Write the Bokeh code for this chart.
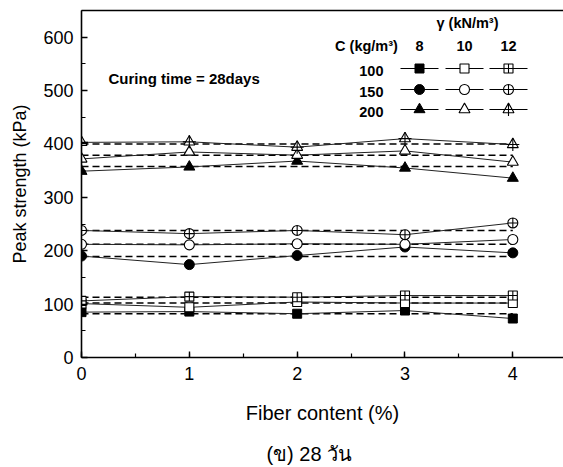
from bokeh.plotting import figure
from bokeh.layouts import column
from bokeh.models import Range1d, LinearAxis, SingleIntervalTicker, FixedTicker, Label
from bokeh.embed import file_html
from bokeh.resources import INLINE
from bokeh.core.properties import value

# ---------------- data ----------------
fiber = [0, 1, 2, 3, 4]

# C = 100 kg/m3, gamma = 8, 10, 12 kN/m3
c100_g8 = [85, 86, 82, 88, 73]
c100_g10 = [101, 94, 104, 102, 102]
c100_g12 = [106, 114, 113, 116, 116]
# C = 150 kg/m3
c150_g8 = [190, 174, 191, 207, 196]
c150_g10 = [212, 211, 213, 212, 221]
c150_g12 = [238, 232, 238, 230, 252]
# C = 200 kg/m3
c200_g8 = [349, 357, 368, 355, 336]
c200_g10 = [372, 385, 379, 387, 366]
c200_g12 = [403, 404, 394, 410, 399]

# dashed reference (average) lines
mean_c100 = [82, 102, 113]
mean_c150 = [189, 212, 238]
mean_c200 = [358, 379, 400]

cement_labels = ["100", "150", "200"]
gamma_labels = ["8", "10", "12"]
caption = "(ข) 28 วัน"

# ---------------- layout ----------------
W, H = 563, 467
H1 = 430                           # main chart height; caption strip below
FL, FT, FB = 81, 10, 357           # frame left / top / bottom (px)
XMAX, YMAX = 4.47, 650
FONT = "Liberation Sans"

p = figure(width=W, height=H1, output_backend="svg", toolbar_location=None,
           x_range=Range1d(0, XMAX), y_range=Range1d(0, YMAX),
           min_border_left=FL, min_border_right=0, min_border_top=FT,
           min_border_bottom=H1 - FB,
           x_axis_label="Fiber content (%)", y_axis_label="Peak strength (kPa)")
p.outline_line_color = None
p.grid.visible = False
p.background_fill_color = "white"
p.border_fill_color = "white"

p.xaxis.ticker = SingleIntervalTicker(interval=1, num_minor_ticks=2)
p.yaxis.ticker = SingleIntervalTicker(interval=100, num_minor_ticks=2)
for ax in (p.xaxis[0], p.yaxis[0]):
    ax.axis_line_width = 1.6
    ax.axis_line_color = "black"
    ax.major_tick_in = 6
    ax.major_tick_out = 0
    ax.minor_tick_in = 4
    ax.minor_tick_out = 0
    ax.major_tick_line_width = 1.4
    ax.minor_tick_line_width = 1.2
    ax.major_tick_line_color = "black"
    ax.minor_tick_line_color = "black"
    ax.major_label_text_font = FONT
    ax.major_label_text_font_size = "18px"
    ax.major_label_text_color = "black"
    ax.axis_label_text_font = FONT
    ax.axis_label_text_font_style = "normal"
    ax.axis_label_text_color = "black"
p.yaxis.axis_label_text_font_size = "18px"
p.xaxis.axis_label_text_font_size = "20px"
p.yaxis.major_label_standoff = 8
p.yaxis.axis_label_standoff = 10
p.xaxis.major_label_standoff = 9
p.xaxis.axis_label_standoff = 19

top_axis = LinearAxis(ticker=FixedTicker(ticks=[]), major_label_text_font_size="0px",
                      major_tick_out=0, major_tick_in=0, minor_tick_out=0, minor_tick_in=0,
                      major_label_standoff=0, axis_line_width=1.6, axis_line_color="black")
p.add_layout(top_axis, "above")

# ---------------- series ----------------
groups = [
    (c100_g8, c100_g10, c100_g12, mean_c100, "square", "square_cross"),
    (c150_g8, c150_g10, c150_g12, mean_c150, "circle", "circle_cross"),
    (c200_g8, c200_g10, c200_g12, mean_c200, "triangle", "triangle"),
]

for g8, g10, g12, means, m, mc in groups:
    for mv in means:
        p.line([fiber[0], fiber[-1]], [mv, mv], line_color="black", line_width=1.5,
               line_dash="7 4")
    for s in (g8, g10, g12):
        p.line(fiber, s, line_color="#222222", line_width=1)

SZ = {"square": 9, "circle": 10, "triangle": 11}
for g8, g10, g12, means, m, mc in groups:
    sz = SZ[m]
    p.scatter(fiber, g8, marker=m, size=sz, fill_color="black", line_color="black")
    p.scatter(fiber, g10, marker=m, size=sz, fill_color="white", line_color="black", line_width=1.1)
    p.scatter(fiber, g12, marker=mc, size=sz, fill_color="white", line_color="black", line_width=1.1)
    if m == "triangle":
        p.scatter(fiber, g12, marker="cross", size=sz + 2, line_color="black", line_width=1.1)

# ---------------- legend / annotation ----------------
def dx(px):
    return (px - FL) / (W - FL) * XMAX

def dy(py):
    return (FB - py) / (FB - FT) * YMAX

def lab(fig, x, y, txt, align="center", size="14.5px", style="bold"):
    fig.add_layout(Label(x=x, y=y, text=txt, text_align=align,
                         text_baseline="middle", text_font=FONT, text_font_size=size,
                         text_font_style=style, text_color="black"))

lab(p, dx(108), dy(78), "Curing time = 28days", align="left", size="15px")
lab(p, dx(467), dy(22), "γ (kN/m³)")
lab(p, dx(366), dy(45), "C (kg/m³)")
col_px = [419, 464, 508]
row_px = [68, 89, 109]
for cx, gl in zip(col_px, gamma_labels):
    lab(p, dx(cx), dy(45), gl)
for ry, cl in zip(row_px, cement_labels):
    lab(p, dx(383), dy(ry + 2), cl, align="right")

row_markers = [("square", "square_cross"), ("circle", "circle_cross"), ("triangle", "triangle")]
for ry, (m, mc) in zip(row_px, row_markers):
    sz = SZ[m]
    for k, cx in enumerate(col_px):
        p.line([dx(cx - 19), dx(cx + 19)], [dy(ry), dy(ry)], line_color="black", line_width=1)
        if k == 0:
            p.scatter([dx(cx)], [dy(ry)], marker=m, size=sz, fill_color="black", line_color="black")
        elif k == 1:
            p.scatter([dx(cx)], [dy(ry)], marker=m, size=sz, fill_color="white", line_color="black", line_width=1.1)
        else:
            p.scatter([dx(cx)], [dy(ry)], marker=mc, size=sz, fill_color="white", line_color="black", line_width=1.1)
            if m == "triangle":
                p.scatter([dx(cx)], [dy(ry)], marker="cross", size=sz + 2, line_color="black", line_width=1.1)

# ---------------- caption strip ----------------
H2 = H - H1
cap = figure(width=W, height=H2, output_backend="svg", toolbar_location=None,
             x_range=Range1d(0, W), y_range=Range1d(0, H2),
             min_border_left=0, min_border_right=0, min_border_top=0, min_border_bottom=0,
             x_axis_type=None, y_axis_type=None)
cap.outline_line_color = None
cap.grid.visible = False
cap.background_fill_color = "white"
cap.border_fill_color = "white"
lab(cap, 216, H2 - (453 - H1), caption, align="left", size="20px", style="normal")

layout = column(p, cap, spacing=0)
open("out.html", "w").write(file_html(layout, INLINE))
